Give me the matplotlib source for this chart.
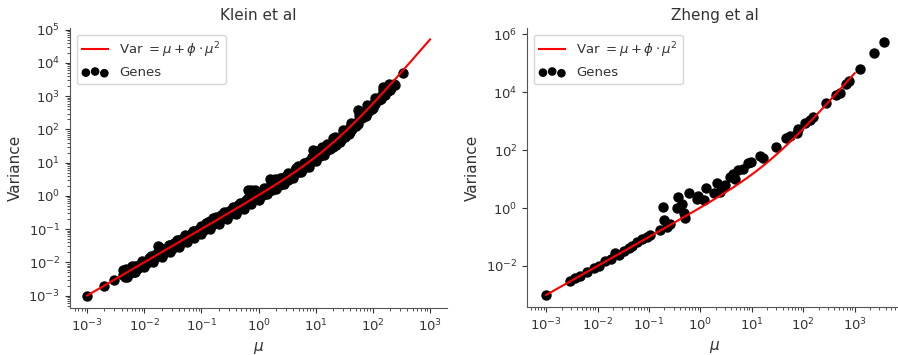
import numpy as np
import matplotlib.pyplot as plt
from matplotlib.ticker import NullLocator

# per-gene mean / variance, Klein et al
klein_mu = [0.001, 0.002, 0.003,
            0.0042, 0.0042, 0.0045, 0.0048, 0.005, 0.0055, 0.0058, 0.006, 0.0065, 0.007,
            0.0075, 0.008, 0.0085, 0.009, 0.0095, 0.01, 0.011, 0.012, 0.013, 0.014, 0.015,
            0.016, 0.017, 0.018, 0.019, 0.02, 0.022, 0.024, 0.026, 0.028, 0.03, 0.033,
            0.036, 0.04, 0.043, 0.047, 0.05, 0.055, 0.06, 0.065, 0.07, 0.075, 0.08, 0.09,
            0.095, 0.1, 0.11, 0.12, 0.13, 0.14, 0.15, 0.16, 0.17, 0.19, 0.2, 0.22, 0.24,
            0.26, 0.28, 0.3, 0.33, 0.36, 0.4, 0.44, 0.48, 0.52, 0.56, 0.6, 0.65, 0.7,
            0.75, 0.8, 0.85, 0.9, 1.0, 1.05, 1.15, 1.2, 1.3, 1.4, 1.5, 1.6, 1.7, 1.8,
            1.9, 2.0, 2.2, 2.4, 2.6, 2.8, 3.0, 3.3, 3.6, 4.0, 4.4, 4.8, 5.0, 5.5, 6.0,
            6.5, 7.0, 7.5, 8.0, 9.0, 10, 10.5, 11, 12, 13, 14, 15, 17, 18, 20, 21, 23,
            25, 27, 30, 32, 35, 38, 40, 43, 47, 50, 55, 58, 62, 65, 70, 75, 80, 85, 90,
            95, 100, 110, 120, 130, 140, 150, 160, 170, 180, 195, 210, 230, 340,
            # lower edge of the cloud
            0.005, 0.007, 0.01, 0.014, 0.02, 0.028, 0.04, 0.055, 0.075, 0.1, 0.14, 0.2,
            0.28, 0.4, 0.55, 0.75, 1.0, 1.4, 2.0, 2.8, 4.0, 5.5, 7.5, 10, 14, 20, 28,
            40, 55, 75, 100, 140, 200, 240,
            # upper edge of the cloud
            0.006, 0.009, 0.013, 0.019, 0.027, 0.038, 0.052, 0.072, 0.1, 0.13, 0.18,
            0.25, 0.35, 0.48, 0.65, 0.9, 1.25, 1.7, 2.4, 3.3, 4.5, 6.2, 8.5, 12, 16,
            22, 30, 42, 58, 80, 110, 150, 190]
klein_var = [0.001, 0.0019, 0.0029,
             0.0058, 0.0042, 0.0037, 0.0062, 0.0048, 0.0044, 0.0068, 0.0055, 0.0052, 0.0078,
             0.0063, 0.0085, 0.0072, 0.0098, 0.0082, 0.0105, 0.0095, 0.0135, 0.011, 0.015, 0.013,
             0.018, 0.032, 0.029, 0.016, 0.023, 0.019, 0.027, 0.022, 0.033, 0.026, 0.037,
             0.031, 0.047, 0.037, 0.052, 0.044, 0.062, 0.052, 0.072, 0.06, 0.085, 0.07, 0.1,
             0.08, 0.115, 0.095, 0.15, 0.11, 0.17, 0.13, 0.21, 0.15, 0.22, 0.17, 0.26, 0.21,
             0.3, 0.24, 0.36, 0.28, 0.42, 0.35, 0.52, 0.41, 0.62, 0.48, 0.75, 1.45, 0.6,
             1.5, 0.9, 1.45, 0.82, 1.2, 0.92, 1.35, 1.05, 1.55, 1.2, 1.9, 3.2, 1.5, 2.2,
             3.3, 1.8, 2.7, 2.1, 3.5, 2.6, 3.9, 3.0, 4.6, 3.9, 6.0, 8.0, 5.2, 7.5, 6.5,
             9.5, 8.0, 11, 9.5, 24, 12.5, 22, 17, 16, 30, 21, 22, 30, 25, 55, 36, 33,
             50, 42, 80, 60, 95, 75, 115, 100, 150, 130, 390, 200, 300, 220, 300, 270, 400,
             350, 500, 420, 600, 580, 820, 750, 1000, 1900, 1100, 1500, 1400, 1900, 1800,
             2300, 5000,
             0.0036, 0.005, 0.0072, 0.01, 0.0144, 0.02, 0.029, 0.04, 0.054, 0.072, 0.1, 0.145,
             0.2, 0.29, 0.41, 0.58, 0.76, 1.1, 1.6, 2.3, 3.5, 5.1, 7.4, 10.8, 17, 29, 48,
             86, 150, 260, 430, 800, 1550, 2100,
             0.0075, 0.011, 0.016, 0.024, 0.034, 0.048, 0.065, 0.09, 0.125, 0.165, 0.23,
             0.32, 0.45, 0.62, 0.85, 1.2, 1.7, 2.4, 3.4, 5.0, 7.0, 10, 15, 24, 36,
             57, 95, 160, 280, 550, 900, 1500, 2300]

# per-gene mean / variance, Zheng et al
zheng_mu = [0.001, 0.0029, 0.0037, 0.0046, 0.0062, 0.0084, 0.0105, 0.014, 0.018, 0.022,
            0.026, 0.032, 0.04, 0.047, 0.058, 0.072, 0.091, 0.105, 0.165, 0.19, 0.2,
            0.22, 0.26, 0.35, 0.37, 0.44, 0.47, 0.5, 0.59, 0.85, 0.91, 1.15, 1.3,
            1.8, 2.1, 2.4, 2.6, 3.0, 3.7, 4.4, 4.7, 5.5, 6.8, 8.5, 9.8, 14.5, 16.6,
            30, 47, 55, 74, 79, 107, 135, 155, 280, 440, 510, 690, 790, 1260, 2340, 3800]
zheng_var = [0.001, 0.003, 0.0037, 0.0045, 0.0063, 0.0083, 0.01, 0.015, 0.018, 0.029,
             0.024, 0.032, 0.041, 0.049, 0.069, 0.083, 0.1, 0.12, 0.17, 1.06, 0.39,
             0.23, 0.28, 1.0, 2.4, 1.4, 0.66, 0.45, 3.2, 2.0, 2.6, 1.9, 4.8,
             3.4, 7.6, 3.7, 5.5, 6.3, 12, 15, 9.8, 20, 23, 35, 40, 63, 52,
             130, 260, 310, 380, 560, 890, 1100, 1350, 4200, 7900, 9500, 20000, 25000,
             62000, 220000, 550000]

# dispersion fitted for each dataset
klein_phi = 0.05
zheng_phi = 0.045

mu_grid = np.logspace(-3, 3, 200)
decades = [1e-3, 1e-2, 1e-1, 1e0, 1e1, 1e2, 1e3]

plt.rcParams['text.color'] = '#333333'
plt.rcParams['axes.labelcolor'] = '#333333'
plt.rcParams['xtick.color'] = '#333333'
plt.rcParams['ytick.color'] = '#333333'
plt.rcParams['axes.edgecolor'] = '#555555'

fig = plt.figure(figsize=(8.98, 3.55), dpi=100)
ax1 = fig.add_axes([0.078, 0.132, 0.42, 0.789])
ax2 = fig.add_axes([0.587, 0.135, 0.418, 0.786])

panels = [
    (ax1, 'Klein et al', klein_mu, klein_var, klein_phi),
    (ax2, 'Zheng et al', zheng_mu, zheng_var, zheng_phi),
]

for ax, title, mu, var, phi in panels:
    ax.plot(mu_grid, mu_grid + phi * mu_grid**2, color='red', lw=1.5, zorder=3,
            label=r'Var $= \mu + \phi \cdot \mu^2$')
    ax.scatter(mu, var, s=42, color='black', zorder=2, label='Genes')
    ax.set_xscale('log')
    ax.set_yscale('log')
    ax.set_title(title, fontsize=11)
    ax.set_xlabel(r'$\mu$', fontsize=11)
    ax.set_ylabel('Variance', fontsize=11)
    ax.tick_params(labelsize=9.5)
    ax.spines['top'].set_visible(False)
    ax.spines['right'].set_visible(False)
    ax.legend(loc='upper left', scatterpoints=3, markerscale=0.8, fontsize=9.5)
    ax.set_xticks(decades)

ax1.set_xlim(10**-3.3, 10**3.3)
ax1.set_ylim(10**-3.38, 10**5.05)
ax1.set_yticks([1e-3, 1e-2, 1e-1, 1e0, 1e1, 1e2, 1e3, 1e4, 1e5])

ax2.set_xlim(10**-3.37, 10**3.93)
ax2.set_ylim(10**-3.42, 10**6.22)
ax2.set_yticks([1e-2, 1e0, 1e2, 1e4, 1e6])
ax2.yaxis.set_minor_locator(NullLocator())

fig.savefig('out.png', dpi=100)
